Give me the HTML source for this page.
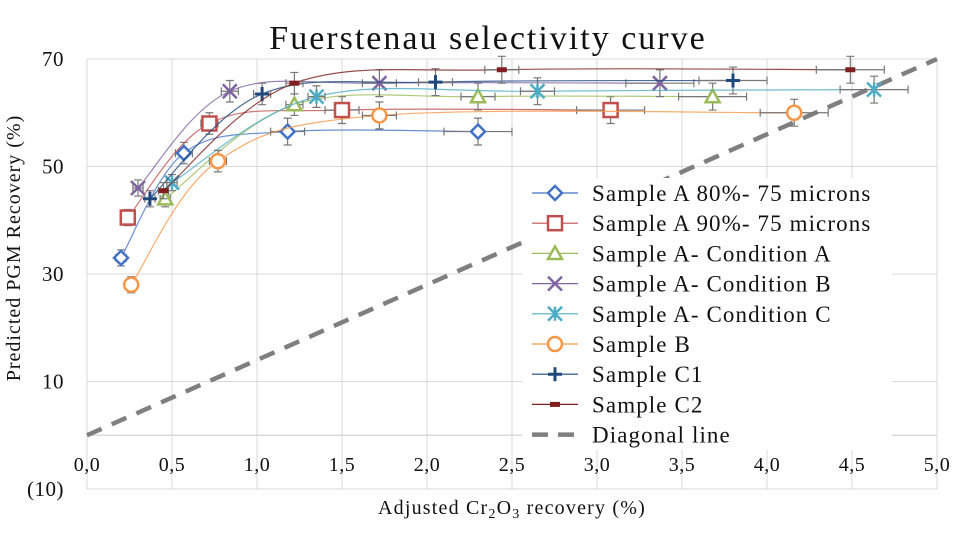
<!DOCTYPE html>
<html><head><meta charset="utf-8"><style>
body{margin:0;background:#fff;width:969px;height:544px;overflow:hidden}
svg text{font-family:"Liberation Serif",serif;fill:#111}
</style></head><body>
<svg id="c" width="969" height="544"></svg>
<script>
const seriesNames=["Sample A 80%- 75 microns","Sample A 90%- 75 microns","Sample A- Condition A","Sample A- Condition B","Sample A- Condition C","Sample B","Sample C1","Sample C2"];
const xA80=[0.2,0.57,1.18,2.3], yA80=[33,52.5,56.5,56.5];
const xA90=[0.24,0.72,1.5,3.08], yA90=[40.5,58,60.5,60.5];
const xCA=[0.46,1.22,2.3,3.68], yCA=[44,61.5,63,63];
const xCB=[0.3,0.84,1.72,3.37], yCB=[46,64,65.5,65.5];
const xCC=[0.5,1.35,2.65,4.63], yCC=[47,63,64,64.3];
const xB=[0.26,0.77,1.72,4.16], yB=[28,51,59.5,60];
const xC1=[0.37,1.03,2.05,3.8], yC1=[44,63.5,65.7,66];
const xC2=[0.45,1.22,2.44,4.49], yC2=[45.5,65.5,68,68];
const xErr=[0.03,0.05,0.1,0.2], yErr=[1.5,2,2.5,2.5];
const xTicks=["0,0","0,5","1,0","1,5","2,0","2,5","3,0","3,5","4,0","4,5","5,0"];
const yTicks=[70,50,30,10,-10];
const diagX=[0,5], diagY=[0,70];
const colors=["#4472C4","#C0504D","#9BBB59","#8064A2","#4BACC6","#F79646","#1F497D","#7F1F1F"];
const markers=["diamond","square","triangle","x","star","circle","plus","dash"];
const XS=[xA80,xA90,xCA,xCB,xCC,xB,xC1,xC2], YS=[yA80,yA90,yCA,yCB,yCC,yB,yC1,yC2];
const X=v=>87+v*170, Y=v=>59+(70-v)*5.375;
const svg=document.getElementById('c'), NS="http://www.w3.org/2000/svg";
function mk(t,a,p){const e=document.createElementNS(NS,t);for(const k in a)e.setAttribute(k,a[k]);(p||svg).appendChild(e);return e;}
function txt(s,x,y,sz,anchor,ls){const t=mk('text',{x:x,y:y,'font-size':sz,'text-anchor':anchor||'middle','letter-spacing':ls||0});t.textContent=s;return t;}
for(let i=0;i<xTicks.length;i++){const g=mk('line',{x1:X(i*0.5),x2:X(i*0.5),y1:59,y2:489,stroke:'#d9d9d9','stroke-width':1});


const t=txt(xTicks[i],X(i*0.5),471,20,'middle',0.5);

}
for(const v of yTicks){const g=mk('line',{x1:87,x2:937,y1:Y(v),y2:Y(v),stroke:'#d9d9d9','stroke-width':1});


const t=txt(v<0?'('+(-v)+')':String(v),64,Y(v)+7,21,'end',0.5);

}
const ax=mk('line',{x1:87,x2:937,y1:Y(0),y2:Y(0),stroke:'#d9d9d9','stroke-width':1.5});


const dg=mk('line',{x1:X(diagX[0]),y1:Y(diagY[0]),x2:X(diagX[1]),y2:Y(diagY[1]),stroke:'#7f7f7f','stroke-width':4.5,'stroke-dasharray':'16,11'});


function smooth(px,py){let d='M'+px[0]+','+py[0];for(let i=0;i<px.length-1;i++){const p0=i?i-1:0,p3=Math.min(i+2,px.length-1);
const c1x=px[i]+(px[i+1]-px[p0])/6,c1y=py[i]+(py[i+1]-py[p0])/6,c2x=px[i+1]-(px[p3]-px[i])/6,c2y=py[i+1]-(py[p3]-py[i])/6;
d+=` C${c1x},${c1y} ${c2x},${c2y} ${px[i+1]},${py[i+1]}`;}return d;}
function marker(type,x,y,c,g){const s=7;
if(type=='diamond')mk('polygon',{points:`${x},${y-s} ${x+s},${y} ${x},${y+s} ${x-s},${y}`,fill:'#fff',stroke:c,'stroke-width':2.5},g);
else if(type=='square')mk('rect',{x:x-s,y:y-s,width:2*s,height:2*s,fill:'#fff',stroke:c,'stroke-width':2.5},g);
else if(type=='triangle')mk('polygon',{points:`${x},${y-s} ${x+s},${y+s*0.8} ${x-s},${y+s*0.8}`,fill:'#fff',stroke:c,'stroke-width':2.5},g);
else if(type=='circle')mk('circle',{cx:x,cy:y,r:s,fill:'#fff',stroke:c,'stroke-width':2.5},g);
else if(type=='x'){mk('path',{d:`M${x-s},${y-s}L${x+s},${y+s}M${x-s},${y+s}L${x+s},${y-s}`,stroke:c,'stroke-width':2.5},g);}
else if(type=='star'){mk('path',{d:`M${x-s},${y-s}L${x+s},${y+s}M${x-s},${y+s}L${x+s},${y-s}M${x},${y-s}L${x},${y+s}`,stroke:c,'stroke-width':2.5},g);}
else if(type=='plus'){mk('path',{d:`M${x-s},${y}L${x+s},${y}M${x},${y-s}L${x},${y+s}`,stroke:c,'stroke-width':3},g);}
else mk('rect',{x:x-5,y:y-2.5,width:10,height:5,fill:c},g);}
for(let s=0;s<8;s++){const g=mk('g',{});


const px=XS[s].map(X),py=YS[s].map(Y);
mk('path',{d:smooth(px,py),fill:'none',stroke:colors[s],'stroke-width':1.2,opacity:0.8},g);
for(let i=0;i<px.length;i++){const ex=xErr[i]*170,ey=yErr[i]*5.375;
mk('path',{d:`M${px[i]-ex},${py[i]}H${px[i]+ex}M${px[i]-ex},${py[i]-4}v8M${px[i]+ex},${py[i]-4}v8M${px[i]},${py[i]-ey}V${py[i]+ey}M${px[i]-4},${py[i]-ey}h8M${px[i]-4},${py[i]+ey}h8`,stroke:'#777','stroke-width':1.2,fill:'none'},g);
marker(markers[s],px[i],py[i],colors[s],g);}}
const lg=mk('g',{});


mk('rect',{x:522,y:178,width:370,height:272,fill:'#fff'},lg);
const names=seriesNames.concat(["Diagonal line"]);
for(let i=0;i<9;i++){const y=193+i*30.2;const e=mk('g',{},lg);


if(i<8){mk('line',{x1:532,x2:578,y1:y,y2:y,stroke:colors[i],'stroke-width':1.2},e);marker(markers[i],555,y,colors[i],e);}
else mk('line',{x1:532,x2:580,y1:y,y2:y,stroke:'#7f7f7f','stroke-width':4.5,'stroke-dasharray':'16,10'},e);
const t=txt(names[i],592,y+8,23,'start',1.1);e.appendChild(t);}
const ti=txt('Fuerstenau selectivity curve',488,49,34,'middle',2);


const xl=mk('text',{x:512,y:514,'font-size':20,'text-anchor':'middle','letter-spacing':1.2});xl.innerHTML='Adjusted Cr<tspan font-size="14" dy="4">2</tspan><tspan dy="-4">O</tspan><tspan font-size="14" dy="4">3</tspan><tspan dy="-4"> recovery (%)</tspan>';


const yl=mk('text',{x:0,y:0,'font-size':20,'text-anchor':'middle','letter-spacing':1,transform:'translate(20,248) rotate(-90)'});yl.textContent='Predicted PGM Recovery (%)';


</script>
</body></html>
